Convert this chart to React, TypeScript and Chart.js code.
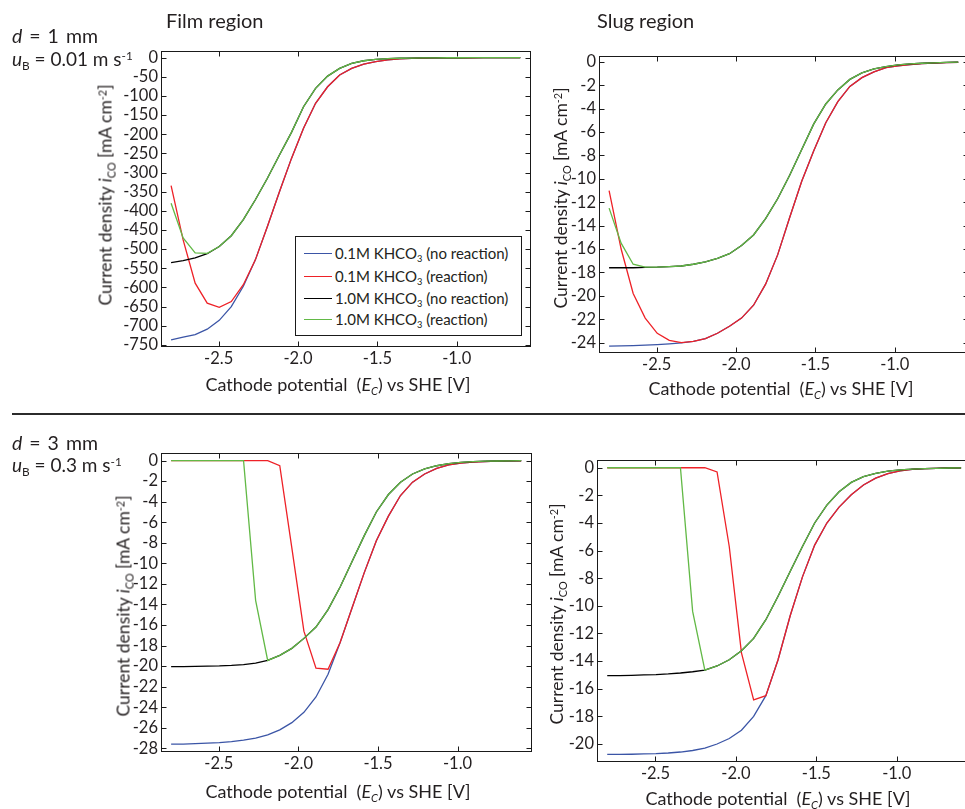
import React, { useEffect, useRef } from "react";
import { Chart, registerables } from "chart.js";

Chart.register(...registerables);

// ---------------- data ----------------
const X_VALUES = [
  -2.8, -2.7241, -2.6483, -2.5724, -2.4966, -2.4207, -2.3448, -2.269, -2.1931, -2.1172,
  -2.0414, -1.9655, -1.8897, -1.8138, -1.7379, -1.6621, -1.5862, -1.5103, -1.4345, -1.3586,
  -1.2828, -1.2069, -1.131, -1.0552, -0.9793, -0.9034, -0.8276, -0.7517, -0.6759, -0.6,
];
const X_TICKS = [-2.5, -2.0, -1.5, -1.0];

const SERIES_LABELS = [
  "0.1M KHCO3 (no reaction)",
  "0.1M KHCO3 (reaction)",
  "1.0M KHCO3 (no reaction)",
  "1.0M KHCO3 (reaction)",
];

// Film region, d = 1 mm
const TL_Y_TICKS = [0, -50, -100, -150, -200, -250, -300, -350, -400, -450, -500, -550, -600, -650, -700, -750];
const TL_BLUE = [-737, -730, -723, -709, -686, -650, -597, -528, -441, -350, -263, -184, -119, -76, -45, -28, -17, -10, -5.5, -3, -1.6, -0.9, -0.5, -0.3, -0.2, -0.1, -0.05, -0.03, -0.02, -0.01];
const TL_RED = [-334, -476, -589, -641, -652, -637, -593, -528, -441, -350, -263, -184, -119, -76, -45, -28, -17, -10, -5.5, -3, -1.6, -0.9, -0.5, -0.3, -0.2, -0.1, -0.05, -0.03, -0.02, -0.01];
const TL_BLACK = [-535, -530, -523, -512, -493, -465, -423, -371, -315, -254, -195, -128, -80, -48, -28, -15, -8, -4.3, -2.6, -1.5, -0.9, -0.5, -0.3, -0.15, -0.08, -0.05, -0.03, -0.02, -0.01, 0];
const TL_GREEN = [-380, -471, -510, -511, -493, -465, -423, -371, -315, -254, -195, -128, -80, -48, -28, -15, -8, -4.3, -2.6, -1.5, -0.9, -0.5, -0.3, -0.15, -0.08, -0.05, -0.03, -0.02, -0.01, 0];

// Slug region, d = 1 mm
const TR_Y_TICKS = [0, -2, -4, -6, -8, -10, -12, -14, -16, -18, -20, -22, -24];
const TR_BLUE = [-24.3, -24.28, -24.25, -24.22, -24.17, -24.1, -24.02, -23.9, -23.65, -23.2, -22.6, -21.9, -20.8, -19.0, -16.5, -13.3, -10.2, -7.6, -5.2, -3.4, -2.1, -1.35, -0.85, -0.5, -0.35, -0.23, -0.15, -0.1, -0.06, -0.04];
const TR_RED = [-11.0, -16.0, -19.8, -21.9, -23.2, -23.8, -24.0, -23.9, -23.65, -23.2, -22.6, -21.9, -20.8, -19.0, -16.5, -13.3, -10.2, -7.6, -5.2, -3.4, -2.1, -1.35, -0.85, -0.5, -0.35, -0.23, -0.15, -0.1, -0.06, -0.04];
const TR_BLACK = [-17.6, -17.6, -17.6, -17.57, -17.55, -17.5, -17.45, -17.3, -17.1, -16.8, -16.4, -15.7, -14.8, -13.4, -11.7, -9.7, -7.5, -5.3, -3.6, -2.4, -1.5, -0.95, -0.6, -0.4, -0.25, -0.17, -0.12, -0.08, -0.05, -0.03];
const TR_GREEN = [-12.5, -15.5, -17.3, -17.55, -17.55, -17.5, -17.45, -17.3, -17.1, -16.8, -16.4, -15.7, -14.8, -13.4, -11.7, -9.7, -7.5, -5.3, -3.6, -2.4, -1.5, -0.95, -0.6, -0.4, -0.25, -0.17, -0.12, -0.08, -0.05, -0.03];

// Film region, d = 3 mm
const BL_Y_TICKS = [0, -2, -4, -6, -8, -10, -12, -14, -16, -18, -20, -22, -24, -26, -28];
const BL_BLUE = [-27.6, -27.6, -27.55, -27.5, -27.45, -27.35, -27.2, -27.0, -26.7, -26.2, -25.5, -24.5, -23.0, -20.8, -17.7, -14.3, -10.9, -7.8, -5.4, -3.4, -2.1, -1.3, -0.75, -0.42, -0.25, -0.15, -0.09, -0.05, -0.03, -0.02];
const BL_RED = [0, 0, 0, 0, 0, 0, 0, 0, 0, -0.5, -8.5, -16.6, -20.2, -20.3, -17.7, -14.3, -10.9, -7.8, -5.4, -3.4, -2.1, -1.3, -0.75, -0.42, -0.25, -0.15, -0.09, -0.05, -0.03, -0.02];
const BL_BLACK = [-20.05, -20.05, -20.03, -20.0, -19.98, -19.93, -19.85, -19.7, -19.45, -18.95, -18.27, -17.3, -16.2, -14.5, -12.3, -9.8, -7.3, -5.0, -3.3, -2.1, -1.3, -0.8, -0.5, -0.3, -0.17, -0.1, -0.06, -0.04, -0.02, -0.01];
const BL_GREEN = [0, 0, 0, 0, 0, 0, 0, -13.6, -19.45, -18.95, -18.27, -17.3, -16.2, -14.5, -12.3, -9.8, -7.3, -5.0, -3.3, -2.1, -1.3, -0.8, -0.5, -0.3, -0.17, -0.1, -0.06, -0.04, -0.02, -0.01];

// Slug region, d = 3 mm
const BR_Y_TICKS = [0, -2, -4, -6, -8, -10, -12, -14, -16, -18, -20];
const BR_BLUE = [-20.75, -20.75, -20.74, -20.72, -20.7, -20.65, -20.58, -20.47, -20.3, -20.0, -19.6, -19.0, -18.0, -16.5, -13.9, -10.7, -7.9, -5.6, -4.0, -2.85, -1.95, -1.25, -0.75, -0.42, -0.22, -0.12, -0.07, -0.04, -0.02, -0.01];
const BR_RED = [0, 0, 0, 0, 0, 0, 0, 0, 0, -0.3, -5.7, -13.4, -16.8, -16.5, -13.9, -10.7, -7.9, -5.6, -4.0, -2.85, -1.95, -1.25, -0.75, -0.42, -0.22, -0.12, -0.07, -0.04, -0.02, -0.01];
const BR_BLACK = [-15.05, -15.05, -15.03, -15.0, -14.98, -14.93, -14.86, -14.77, -14.65, -14.35, -13.9, -13.25, -12.35, -11.0, -9.3, -7.5, -5.7, -4.0, -2.7, -1.74, -1.06, -0.65, -0.41, -0.24, -0.15, -0.1, -0.06, -0.04, -0.02, -0.01];
const BR_GREEN = [0, 0, 0, 0, 0, 0, 0, -10.4, -14.65, -14.35, -13.9, -13.25, -12.35, -11.0, -9.3, -7.5, -5.7, -4.0, -2.7, -1.74, -1.06, -0.65, -0.41, -0.24, -0.15, -0.1, -0.06, -0.04, -0.02, -0.01];

// ---------------- styling ----------------
const COLORS = ["#3b55a6", "#ee2127", "#000000", "#62b946"];
const FONT = "Lato, 'Open Sans', sans-serif";
const TEXT = "#231f20";
const W = 980;
const H = 809;
const Y_AXIS_W = 60;
const X_AXIS_H = 34;
const TICK_FONT = 16.5;

type Panel = {
  area: { left: number; right: number; top: number; bottom: number };
  xMin: number;
  xMax: number;
  yMin: number;
  yMax: number;
  yTicks: number[];
  series: number[][];
};

const PANELS: Panel[] = [
  { area: { left: 161, right: 530, top: 51, bottom: 346 }, xMin: -2.8636, xMax: -0.5384, yMin: -753, yMax: 17.5, yTicks: TL_Y_TICKS, series: [TL_BLUE, TL_RED, TL_BLACK, TL_GREEN] },
  { area: { left: 599, right: 968, top: 56, bottom: 352 }, xMin: -2.8636, xMax: -0.5384, yMin: -24.8, yMax: 0.5, yTicks: TR_Y_TICKS, series: [TR_BLUE, TR_RED, TR_BLACK, TR_GREEN] },
  { area: { left: 161, right: 531, top: 453, bottom: 751 }, xMin: -2.8636, xMax: -0.5384, yMin: -28.26, yMax: 0.74, yTicks: BL_Y_TICKS, series: [BL_BLUE, BL_RED, BL_BLACK, BL_GREEN] },
  { area: { left: 597, right: 971, top: 460, bottom: 761 }, xMin: -2.8636, xMax: -0.5384, yMin: -21.23, yMax: 0.56, yTicks: BR_Y_TICKS, series: [BR_BLUE, BR_RED, BR_BLACK, BR_GREEN] },
];

const framePlugin = {
  id: "matlabFrame",
  afterDraw(chart: any) {
    const { ctx, chartArea: a, scales } = chart;
    const L = Math.round(a.left) + 0.5;
    const R = Math.round(a.right) + 0.5;
    const T = Math.round(a.top) + 0.5;
    const B = Math.round(a.bottom) + 0.5;
    const tl = 5;
    ctx.save();
    ctx.strokeStyle = "#1a1a1a";
    ctx.lineWidth = 1;
    ctx.strokeRect(L, T, R - L, B - T);
    ctx.beginPath();
    scales.x.ticks.forEach((t: any) => {
      const px = Math.round(scales.x.getPixelForValue(t.value)) + 0.5;
      ctx.moveTo(px, B);
      ctx.lineTo(px, B - tl);
      ctx.moveTo(px, T);
      ctx.lineTo(px, T + tl);
    });
    scales.y.ticks.forEach((t: any) => {
      const py = Math.round(scales.y.getPixelForValue(t.value)) + 0.5;
      ctx.moveTo(L, py);
      ctx.lineTo(L + tl, py);
      ctx.moveTo(R, py);
      ctx.lineTo(R - tl, py);
    });
    ctx.stroke();
    ctx.restore();
  },
};

function PanelChart({ panel }: { panel: Panel }) {
  const ref = useRef<HTMLCanvasElement | null>(null);
  useEffect(() => {
    if (!ref.current) return;
    const { area } = panel;
    const order = [3, 2, 1, 0]; // green on top, then black, red, blue
    const chart = new Chart(ref.current, {
      type: "line",
      data: {
        datasets: order.map((i) => ({
          label: SERIES_LABELS[i],
          data: X_VALUES.map((x, k) => ({ x, y: panel.series[i][k] })),
          borderColor: COLORS[i],
          backgroundColor: COLORS[i],
          borderWidth: 1.3,
          pointRadius: 0,
          tension: 0,
          fill: false,
        })),
      },
      options: {
        animation: false,
        responsive: false,
        devicePixelRatio: 1,
        events: [],
        layout: {
          padding: {
            left: area.left - Y_AXIS_W,
            top: area.top,
            right: W - area.right,
            bottom: H - area.bottom - X_AXIS_H,
          },
        },
        plugins: { legend: { display: false }, tooltip: { enabled: false }, title: { display: false } },
        scales: {
          x: {
            type: "linear",
            min: panel.xMin,
            max: panel.xMax,
            afterBuildTicks: (s: any) => {
              s.ticks = X_TICKS.map((v) => ({ value: v }));
            },
            afterFit: (s: any) => {
              s.height = X_AXIS_H;
            },
            grid: { display: false, drawTicks: false },
            border: { display: false },
            ticks: {
              padding: 3,
              autoSkip: false,
              maxRotation: 0,
              color: TEXT,
              font: { family: FONT, size: TICK_FONT },
              callback: (v: any) => Number(v).toFixed(1),
            },
          },
          y: {
            type: "linear",
            min: panel.yMin,
            max: panel.yMax,
            afterBuildTicks: (s: any) => {
              s.ticks = panel.yTicks.map((v) => ({ value: v }));
            },
            afterFit: (s: any) => {
              s.width = Y_AXIS_W;
            },
            grid: { display: false, drawTicks: false },
            border: { display: false },
            ticks: {
              padding: 3,
              autoSkip: false,
              color: TEXT,
              font: { family: FONT, size: TICK_FONT },
              callback: (v: any) => String(v),
            },
          },
        },
      },
      plugins: [framePlugin],
    } as any);
    return () => chart.destroy();
  }, [panel]);
  return (
    <canvas
      ref={ref}
      width={W}
      height={H}
      style={{ position: "absolute", left: 0, top: 0, width: W, height: H }}
    />
  );
}

const sub = (t: string, italic = false) => (
  <span style={{ fontSize: "0.62em", position: "relative", top: "0.35em", fontStyle: italic ? "italic" : "normal" }}>{t}</span>
);
const sup = (t: string) => (
  <span style={{ fontSize: "0.62em", position: "relative", top: "-0.5em" }}>{t}</span>
);

function Txt({ x, baseline, size, spacing, children }: { x: number; baseline: number; size: number; spacing?: number; children: any }) {
  return (
    <div
      style={{
        position: "absolute",
        left: x,
        top: baseline - 0.987 * size,
        fontSize: size,
        lineHeight: `${1.2 * size}px`,
        whiteSpace: "pre",
        wordSpacing: spacing ? `${spacing}px` : undefined,
        fontFamily: FONT,
        color: TEXT,
      }}
    >
      {children}
    </div>
  );
}

function CenterTxt({ cx, cy, size, rotate, children }: { cx: number; cy: number; size: number; rotate?: boolean; children: any }) {
  return (
    <div
      style={{
        position: "absolute",
        left: cx,
        top: cy,
        transform: `translate(-50%, -50%)${rotate ? " rotate(-90deg)" : ""}`,
        fontSize: size,
        lineHeight: `${1.2 * size}px`,
        whiteSpace: "pre",
        fontFamily: FONT,
        color: TEXT,
      }}
    >
      {children}
    </div>
  );
}

const yTitle = (
  <>
    Current density <i>i</i>
    {sub("CO")} [mA cm{sup("-2")}]
  </>
);
const xTitle = (
  <>
    Cathode potential  (<i>E</i>
    {sub("C", true)}) vs SHE [V]
  </>
);

function Legend() {
  const rows = [253, 276, 298, 319];
  return (
    <div
      style={{
        position: "absolute",
        left: 295,
        top: 236,
        width: 225,
        height: 98,
        border: "1px solid #1a1a1a",
        background: "#fff",
        zIndex: 5,
      }}
    >
      {rows.map((cy, i) => (
        <React.Fragment key={i}>
          <div
            style={{
              position: "absolute",
              left: 304 - 296,
              top: cy - 237,
              width: 28,
              height: 1.3,
              background: COLORS[i],
            }}
          />
          <div
            style={{
              position: "absolute",
              left: 335 - 296,
              top: cy - 237 - 9,
              fontSize: 15,
              lineHeight: "18px",
              whiteSpace: "pre",
              fontFamily: FONT,
              color: TEXT,
            }}
          >
            {SERIES_LABELS[i].split("KHCO3")[0]}KHCO{sub("3")}
            {SERIES_LABELS[i].split("KHCO3")[1]}
          </div>
        </React.Fragment>
      ))}
    </div>
  );
}

export default function App() {
  return (
    <div
      style={{
        position: "absolute",
        left: 0,
        top: 0,
        width: 965,
        height: 809,
        overflow: "hidden",
        background: "#fff",
        fontFamily: FONT,
      }}
    >
      {PANELS.map((p, i) => (
        <PanelChart key={i} panel={p} />
      ))}

      <Txt x={166} baseline={28} size={20}>Film region</Txt>
      <Txt x={597} baseline={28} size={20}>Slug region</Txt>

      <Txt x={12} baseline={43} size={19.5} spacing={2}>
        <i>d</i>
        {" = 1 mm"}
      </Txt>
      <Txt x={12} baseline={67} size={19}>
        <i>u</i>
        {sub("B")} = 0.01 m s{sup("-1")}
      </Txt>
      <Txt x={12} baseline={450} size={19.5} spacing={2}>
        <i>d</i>
        {" = 3 mm"}
      </Txt>
      <Txt x={12} baseline={473} size={19}>
        <i>u</i>
        {sub("B")} = 0.3 m s{sup("-1")}
      </Txt>

      <div style={{ position: "absolute", left: 12, top: 413, width: 960, height: 2, background: "#2b2b2b" }} />

      <CenterTxt cx={106} cy={195} size={17.5} rotate>{yTitle}</CenterTxt>
      <CenterTxt cx={561} cy={198} size={17.5} rotate>{yTitle}</CenterTxt>
      <CenterTxt cx={124} cy={606} size={17.5} rotate>{yTitle}</CenterTxt>
      <CenterTxt cx={557} cy={614} size={17.5} rotate>{yTitle}</CenterTxt>

      <CenterTxt cx={338} cy={386} size={18}>{xTitle}</CenterTxt>
      <CenterTxt cx={781} cy={390} size={18}>{xTitle}</CenterTxt>
      <CenterTxt cx={338} cy={793} size={18}>{xTitle}</CenterTxt>
      <CenterTxt cx={778} cy={800} size={18}>{xTitle}</CenterTxt>

      <Legend />
    </div>
  );
}
